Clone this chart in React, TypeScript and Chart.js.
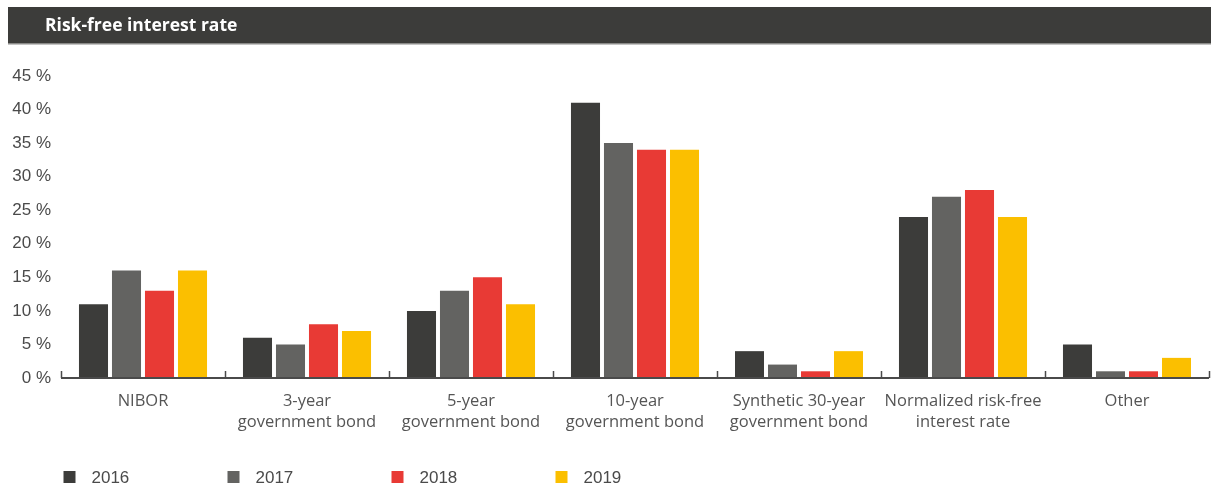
import React, { useEffect, useRef } from "react";
import { Chart, registerables } from "chart.js";

Chart.register(...registerables);

const title = "Risk-free interest rate";
const categories: string[][] = [
  ["NIBOR"],
  ["3-year", "government bond"],
  ["5-year", "government bond"],
  ["10-year", "government bond"],
  ["Synthetic 30-year", "government bond"],
  ["Normalized risk-free", "interest rate"],
  ["Other"],
];
const seriesNames = ["2016", "2017", "2018", "2019"];
const seriesColors = ["#3c3c3a", "#636361", "#e83a35", "#fbbf00"];
const values2016 = [11, 6, 10, 41, 4, 24, 5];
const values2017 = [16, 5, 13, 35, 2, 27, 1];
const values2018 = [13, 8, 15, 34, 1, 28, 1];
const values2019 = [16, 7, 11, 34, 4, 24, 3];
const yMax = 45;
const yStep = 5;

const W = 1211;
const H = 489;

export default function App() {
  const ref = useRef<HTMLCanvasElement | null>(null);

  useEffect(() => {
    document.body.style.margin = "0";
    const canvas = ref.current;
    if (!canvas) return;
    const allValues = [values2016, values2017, values2018, values2019];

    const decor = {
      id: "decor",
      beforeDraw(chart: any) {
        const ctx = chart.ctx;
        ctx.save();
        ctx.fillStyle = "#ffffff";
        ctx.fillRect(0, 0, chart.width, chart.height);
        // title bar
        ctx.fillStyle = "#3c3c3a";
        ctx.fillRect(8, 7, chart.width - 8, 36);
        ctx.fillStyle = "#8a8a88";
        ctx.fillRect(8, 43, chart.width - 8, 1.5);
        ctx.fillStyle = "#ffffff";
        ctx.font = "bold 17.5px 'Open Sans'";
        ctx.textBaseline = "middle";
        ctx.textAlign = "left";
        ctx.fillText(title, 45, 26);
        ctx.restore();
      },
      afterDraw(chart: any) {
        const ctx = chart.ctx;
        const area = chart.chartArea;
        const n = categories.length;
        const w = (area.right - area.left) / n;
        ctx.save();
        // upward tick marks at category boundaries
        ctx.strokeStyle = "#4a4a4a";
        ctx.lineWidth = 1.5;
        for (let i = 0; i <= n; i++) {
          const x = Math.round(area.left + i * w) + 0.5;
          ctx.beginPath();
          ctx.moveTo(x, area.bottom - 7);
          ctx.lineTo(x, area.bottom);
          ctx.stroke();
        }
        // x axis line
        ctx.lineWidth = 2;
        ctx.beginPath();
        ctx.moveTo(area.left, area.bottom);
        ctx.lineTo(area.right, area.bottom);
        ctx.stroke();
        // legend
        ctx.font = "17px 'Liberation Sans'";
        ctx.textBaseline = "middle";
        ctx.textAlign = "left";
        chart.data.datasets.forEach((ds: any, i: number) => {
          const x0 = area.left + i * w + 2.5;
          ctx.fillStyle = ds.backgroundColor;
          ctx.fillRect(x0, 471, 12, 12);
          ctx.fillStyle = "#4a4a4a";
          ctx.fillText(ds.label, x0 + 28, 478);
        });
        ctx.restore();
      },
    };

    const chart = new Chart(canvas, {
      type: "bar",
      data: {
        labels: categories,
        datasets: seriesNames.map((name, i) => ({
          label: name,
          data: allValues[i],
          backgroundColor: seriesColors[i],
          borderWidth: 0,
          categoryPercentage: 0.805,
          barPercentage: 0.88,
        })),
      },
      options: {
        responsive: false,
        animation: false,
        devicePixelRatio: 1,
        layout: { padding: { top: 76, bottom: 51, left: 0, right: 2 } },
        plugins: {
          legend: { display: false },
          tooltip: { enabled: false },
          title: { display: false },
        },
        scales: {
          x: {
            grid: { display: false, drawTicks: false },
            border: { display: false },
            ticks: {
              color: "#555555",
              font: { family: "'Open Sans'", size: 16.5, lineHeight: 1.27 },
              padding: 13,
              maxRotation: 0,
              autoSkip: false,
            },
            afterFit(scale: any) {
              scale.height = 60;
            },
          },
          y: {
            min: 0,
            max: yMax,
            grid: { display: false, drawTicks: false },
            border: { display: false },
            ticks: {
              stepSize: yStep,
              color: "#4a4a4a",
              font: { family: "'Liberation Sans'", size: 17 },
              padding: 10,
              callback: (v: any) => `${v} %`,
            },
            afterFit(scale: any) {
              scale.width = 61;
            },
          },
        },
      },
      plugins: [decor],
    });
    return () => chart.destroy();
  }, []);

  return (
    <div style={{ width: W, height: H }}>
      <canvas ref={ref} width={W} height={H} style={{ display: "block", width: W, height: H }} />
    </div>
  );
}
